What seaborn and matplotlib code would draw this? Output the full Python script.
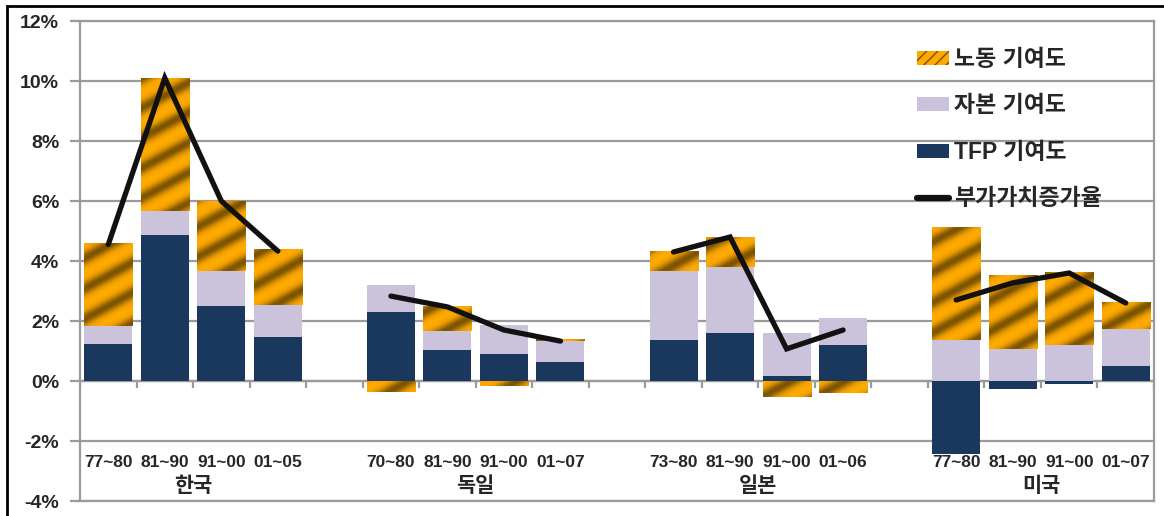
import numpy as np
import pandas as pd
import matplotlib
matplotlib.use("Agg")
import matplotlib.pyplot as plt
from matplotlib.patches import Patch, Rectangle
from matplotlib.lines import Line2D
from matplotlib.colors import LinearSegmentedColormap
import seaborn as sns

# data (percent)
countries = ["한국", "독일", "일본", "미국"]
periods = ["77~80", "81~90", "91~00", "01~05",
           "70~80", "81~90", "91~00", "01~07",
           "73~80", "81~90", "91~00", "01~06",
           "77~80", "81~90", "91~00", "01~07"]
tfp = [1.23, 4.87, 2.50, 1.47, 2.30, 1.03, 0.90, 0.63,
       1.37, 1.60, 0.17, 1.20, -2.43, -0.27, -0.10, 0.50]
capital = [0.60, 0.80, 1.17, 1.07, 0.90, 0.63, 0.97, 0.70,
           2.30, 2.20, 1.43, 0.90, 1.37, 1.07, 1.20, 1.23]
labor = [2.77, 4.43, 2.33, 1.87, -0.37, 0.83, -0.17, 0.07,
         0.67, 1.00, -0.53, -0.40, 3.77, 2.47, 2.43, 0.90]
growth = [4.55, 10.1, 6.0, 4.33, 2.83, 2.47, 1.70, 1.33,
          4.30, 4.80, 1.07, 1.70, 2.70, 3.27, 3.60, 2.60]

sns.set_theme(style="white")
plt.rcParams["font.family"] = ["Liberation Sans", "Noto Sans CJK KR"]
plt.rcParams["font.weight"] = "bold"

# slot positions: 4 bars per country, one empty slot between countries
pos = np.array([g * 5 + k for g in range(4) for k in range(4)], dtype=float)

fig = plt.figure(figsize=(11.64, 5.16), dpi=100)
ax = fig.add_axes([80 / 1164, 1 - 501 / 516, 1074 / 1164, 480 / 516])

grey = "#9a9a9a"
navy = "#1a375e"
lav = "#cbc3db"
gold = "#ffa800"

# stacked bars, positive and negative parts stacked separately
pos_b = np.zeros(len(pos))
neg_b = np.zeros(len(pos))
bars = {}
for name, vals, col in [("tfp", tfp, navy), ("cap", capital, lav), ("lab", labor, gold)]:
    v = np.array(vals)
    bottom = np.where(v >= 0, pos_b, neg_b)
    bars[name] = ax.bar(pos, v, width=0.85, bottom=bottom, color=col, lw=0, zorder=3)
    pos_b = np.where(v >= 0, pos_b + v, pos_b)
    neg_b = np.where(v < 0, neg_b + v, neg_b)

ax.set_xlim(-0.5, 18.5)
ax.set_ylim(-4, 12)

# golden gradient stripes for labour bars
H, W = 480, 1074
rr, cc = np.mgrid[0:H, 0:W]
wave = 0.5 + 0.5 * np.cos(2 * np.pi * (rr + 0.55 * cc) / 30.0)
cmap = LinearSegmentedColormap.from_list("gold", ["#ffaa00", "#eb9c00", "#c08000", "#7e5400"])
img = cmap(wave ** 1.1)
for b in bars["lab"]:
    im = ax.imshow(img, extent=(-0.5, 18.5, -4, 12), aspect="auto",
                   interpolation="bilinear", zorder=4)
    im.set_clip_path(b)
ax.set_xlim(-0.5, 18.5)
ax.set_ylim(-4, 12)

# growth lines, one per country
for g in range(4):
    sl = slice(g * 4, g * 4 + 4)
    sns.lineplot(x=pos[sl], y=growth[sl], ax=ax, color="#111111", lw=3.8,
                 zorder=6, solid_capstyle="round", solid_joinstyle="miter")

# grid and axes
yt = np.arange(-4, 13, 2)
ax.set_yticks(yt)
ax.set_yticklabels([f"{v}%" for v in yt], fontsize=14, fontweight="bold")
ax.yaxis.grid(True, color=grey, lw=1.6, zorder=0)
ax.set_axisbelow(True)
ax.tick_params(axis="y", left=True, length=7, width=1.6, color=grey, pad=8)
ax.tick_params(axis="x", bottom=False, labelbottom=False)
for s in ax.spines.values():
    s.set_color(grey)
    s.set_linewidth(1.6)
ax.axhline(0, color=grey, lw=1.6, zorder=1)
edges = [g * 5 + k - 0.5 for g in range(4) for k in range(5)]
ax.vlines(edges, 0, -0.23, color=grey, lw=1.6, zorder=1)

for x, lbl in zip(pos, periods):
    ax.text(x, -2.72, lbl, ha="center", va="center", fontsize=12.5, fontweight="bold")
for g, c in enumerate(countries):
    ax.text(g * 5 + 1.5, -3.5, c, ha="center", va="center", fontsize=15, fontweight="bold")

handles = [
    Patch(facecolor=gold, edgecolor="#7a5200", hatch="///", lw=0),
    Patch(facecolor=lav, lw=0),
    Patch(facecolor=navy, lw=0),
    Line2D([0], [0], color="#111111", lw=4.5),
]
labels = ["노동 기여도", "자본 기여도", "TFP 기여도", "부가가치증가율"]
leg = ax.legend(handles, labels, loc="upper left", bbox_to_anchor=(917 / 1164, 1 - 48 / 516),
                bbox_transform=fig.transFigure, frameon=False, fontsize=16.5,
                handlelength=1.4, handleheight=0.55, handletextpad=0.2,
                labelspacing=1.02, borderpad=0, borderaxespad=0)
for t in leg.get_texts():
    t.set_fontweight("bold")

# outer black frame
fig.patches.append(Rectangle((7 / 1164, -0.1), 1.2, 1 - 5.5 / 516 + 0.1, transform=fig.transFigure,
                             fill=False, ec="black", lw=2))

fig.savefig("out.png", dpi=100)
